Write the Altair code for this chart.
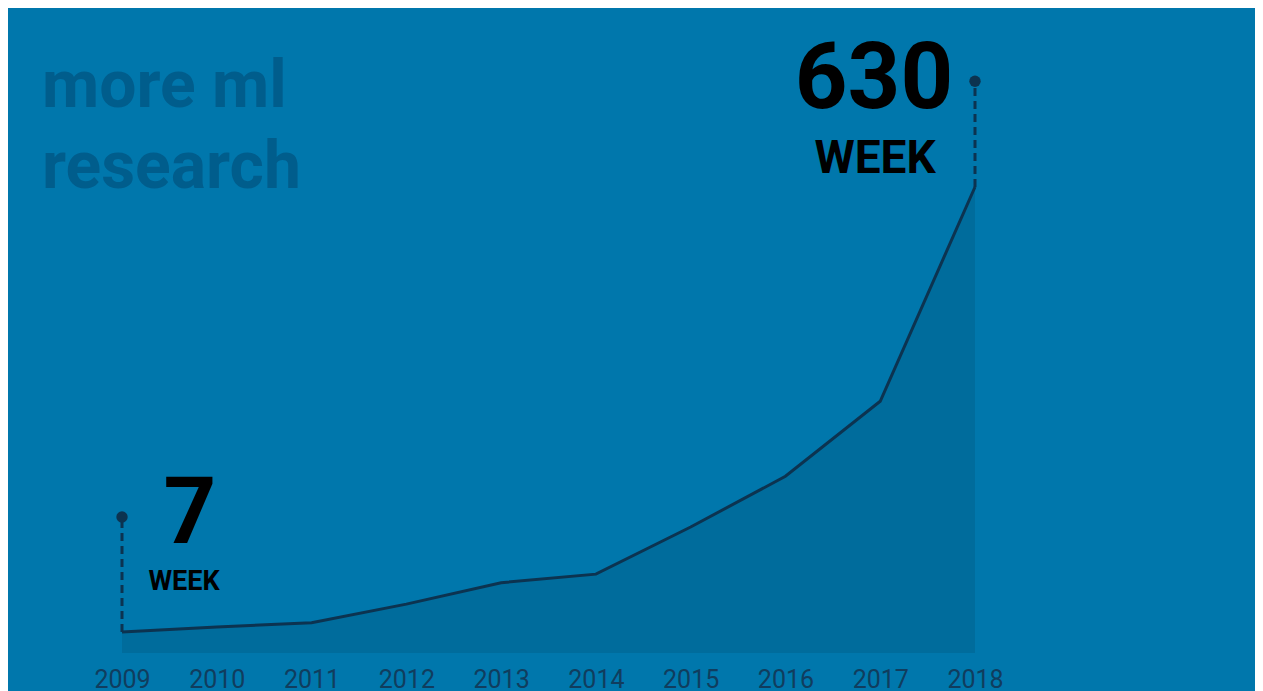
import altair as alt
import pandas as pd

years = [2009, 2010, 2011, 2012, 2013, 2014, 2015, 2016, 2017, 2018]
per_week = [7, 14, 20, 46, 76, 88, 154, 225, 330, 630]

ann_years = [2009, 2018]
ann_values = [7, 630]
ann_tips = [168, 778]
ann_labels = ["7", "630"]

BG = "#0077ac"
AREA = "#006c9c"
LINE = "#0c3350"
TITLE = "#005d8c"

df = pd.DataFrame({"year": years, "value": per_week})
ann = pd.DataFrame({"year": ann_years, "value": ann_values, "tip": ann_tips, "label": ann_labels})

ymin, ymax = -22.4, 880.6

x = alt.X("year:Q", scale=alt.Scale(domain=[2009, 2018], nice=False, zero=False),
          axis=alt.Axis(values=years, format="d", grid=False, domain=False, ticks=False,
                        labelFont="Roboto", labelFontSize=25, labelColor="#103d5e",
                        labelPadding=14, title=None, labelFlush=False))
yscale = alt.Scale(domain=[ymin, ymax], nice=False, zero=False)

base = alt.Chart(df)

area = base.mark_area(color=AREA).encode(
    x=x,
    y=alt.Y("value:Q", scale=yscale, axis=None),
    y2=alt.datum(ymin),
)
line = base.mark_line(color=LINE, strokeWidth=3).encode(
    x="year:Q", y=alt.Y("value:Q", scale=yscale)
)

abase = alt.Chart(ann)
rules = abase.mark_rule(color=LINE, strokeWidth=3, strokeDash=[8, 5]).encode(
    x="year:Q", y=alt.Y("value:Q", scale=yscale), y2="tip:Q"
)
dots = abase.mark_circle(color=LINE, size=130, opacity=1).encode(
    x="year:Q", y=alt.Y("tip:Q", scale=yscale)
)

small = abase.transform_filter(alt.datum.year == 2009)
big = abase.transform_filter(alt.datum.year == 2018)

num_small = small.mark_text(font="Roboto", fontWeight="bold", fontSize=92, color="black",
                            align="center", baseline="alphabetic", dx=68, dy=26).encode(
    x="year:Q", y=alt.Y("tip:Q", scale=yscale), text="label:N")
week_small = small.mark_text(font="Roboto", fontWeight="bold", fontSize=27, color="black",
                             align="center", baseline="alphabetic", dx=62, dy=73).encode(
    x="year:Q", y=alt.Y("tip:Q", scale=yscale), text=alt.value("WEEK"))
num_big = big.mark_text(font="Roboto", fontWeight="bold", fontSize=92, color="black",
                        align="center", baseline="alphabetic", dx=-101, dy=27).encode(
    x="year:Q", y=alt.Y("tip:Q", scale=yscale), text="label:N")
week_big = big.mark_text(font="Roboto", fontWeight="bold", fontSize=46, color="black",
                         align="center", baseline="alphabetic", dx=-100, dy=92).encode(
    x="year:Q", y=alt.Y("tip:Q", scale=yscale), text=alt.value("WEEK"))

title = alt.Chart(pd.DataFrame({"t": [0]})).mark_text(
    font="Roboto", fontWeight="bold", fontSize=66, color=TITLE, align="left",
    baseline="alphabetic", lineHeight=81
).encode(x=alt.value(-80), y=alt.value(99), text=alt.value(["more ml", "research"]))

chart = alt.layer(area, line, rules, dots, num_small, week_small, num_big, week_big, title).properties(
    width=853, height=645, background=BG,
    autosize=alt.AutoSizeParams(type="none"),
    padding={"left": 114, "top": 0, "right": 280, "bottom": 40},
).configure_view(stroke=None)

chart.save("out.html", embed_options={"renderer": "svg", "actions": False})
